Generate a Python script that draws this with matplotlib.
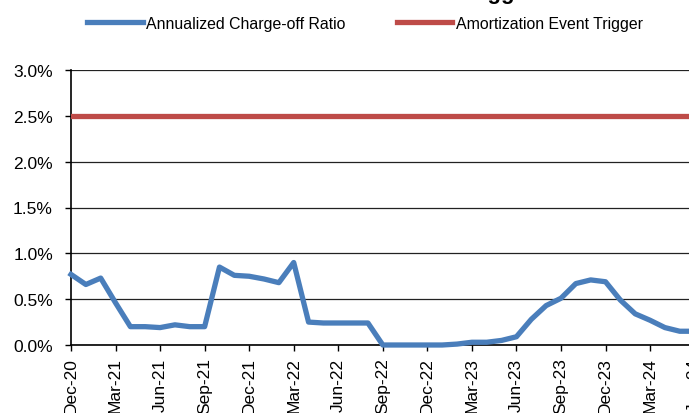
import pandas as pd
import matplotlib
matplotlib.use("Agg")
import matplotlib.pyplot as plt
from matplotlib.ticker import FuncFormatter, MultipleLocator

plt.rcParams['font.family'] = ['Liberation Sans', 'DejaVu Sans']

# monthly data, Dec-20 .. Jun-24 (values in %)
months = pd.date_range('2020-12-01', '2024-06-01', freq='MS').strftime('%b-%y').tolist()
charge_off = [0.77, 0.66, 0.73, 0.46, 0.20, 0.20, 0.19, 0.22, 0.20, 0.20,
              0.85, 0.76, 0.75, 0.72, 0.68, 0.90, 0.25, 0.24, 0.24, 0.24,
              0.24, 0.00, 0.00, 0.00, 0.00, 0.00, 0.01, 0.03, 0.03, 0.05,
              0.09, 0.28, 0.43, 0.51, 0.67, 0.71, 0.69, 0.49, 0.34, 0.27,
              0.19, 0.15, 0.15]
trigger = [2.5] * len(months)

W, H = 689, 414
fig = plt.figure(figsize=(W / 100, H / 100), dpi=100)
# chart is cropped on the right, so the axes run past the figure edge
ax = fig.add_axes([71 / W, 68 / H, 623.6 / W, 275 / H])

x = list(range(len(months)))
ax.plot(x, charge_off, color='#4a7ebb', lw=3.8, solid_joinstyle='round',
        label='Annualized Charge-off Ratio', zorder=4, clip_on=False)
ax.plot(x, trigger, color='#be4b48', lw=3.8,
        label='Amortization Event Trigger', zorder=3)

ax.set_xlim(0, len(months) - 1)
ax.set_ylim(0, 3.0)
ax.yaxis.set_major_locator(MultipleLocator(0.5))
ax.yaxis.set_major_formatter(FuncFormatter(lambda v, p: f'{v:.1f}%'))
ax.set_xticks(x[::3])
ax.set_xticklabels(months[::3], rotation=90)

ax.grid(axis='y', color='#222222', lw=0.9)
ax.set_axisbelow(True)
for s in ['top', 'right']:
    ax.spines[s].set_visible(False)
ax.spines['left'].set_linewidth(1.2)
ax.spines['bottom'].set_linewidth(1.2)
ax.tick_params(axis='y', labelsize=12.5, length=4, width=1, pad=9)
ax.tick_params(axis='x', labelsize=12.5, length=4, width=1, pad=5)

fig.legend(loc='center', bbox_to_anchor=(365 / W, 1 - 24 / H), ncol=2,
           frameon=False, fontsize=11.4, handlelength=3.5, handletextpad=0.25,
           columnspacing=3.2)

# title sits above the visible area; only descenders show
fig.text(536 / W, 1 + 0.5 / H, 'Amortization Event Trigger', ha='right',
         va='baseline', fontsize=16, fontweight='bold')

fig.savefig('out.png', dpi=100)
